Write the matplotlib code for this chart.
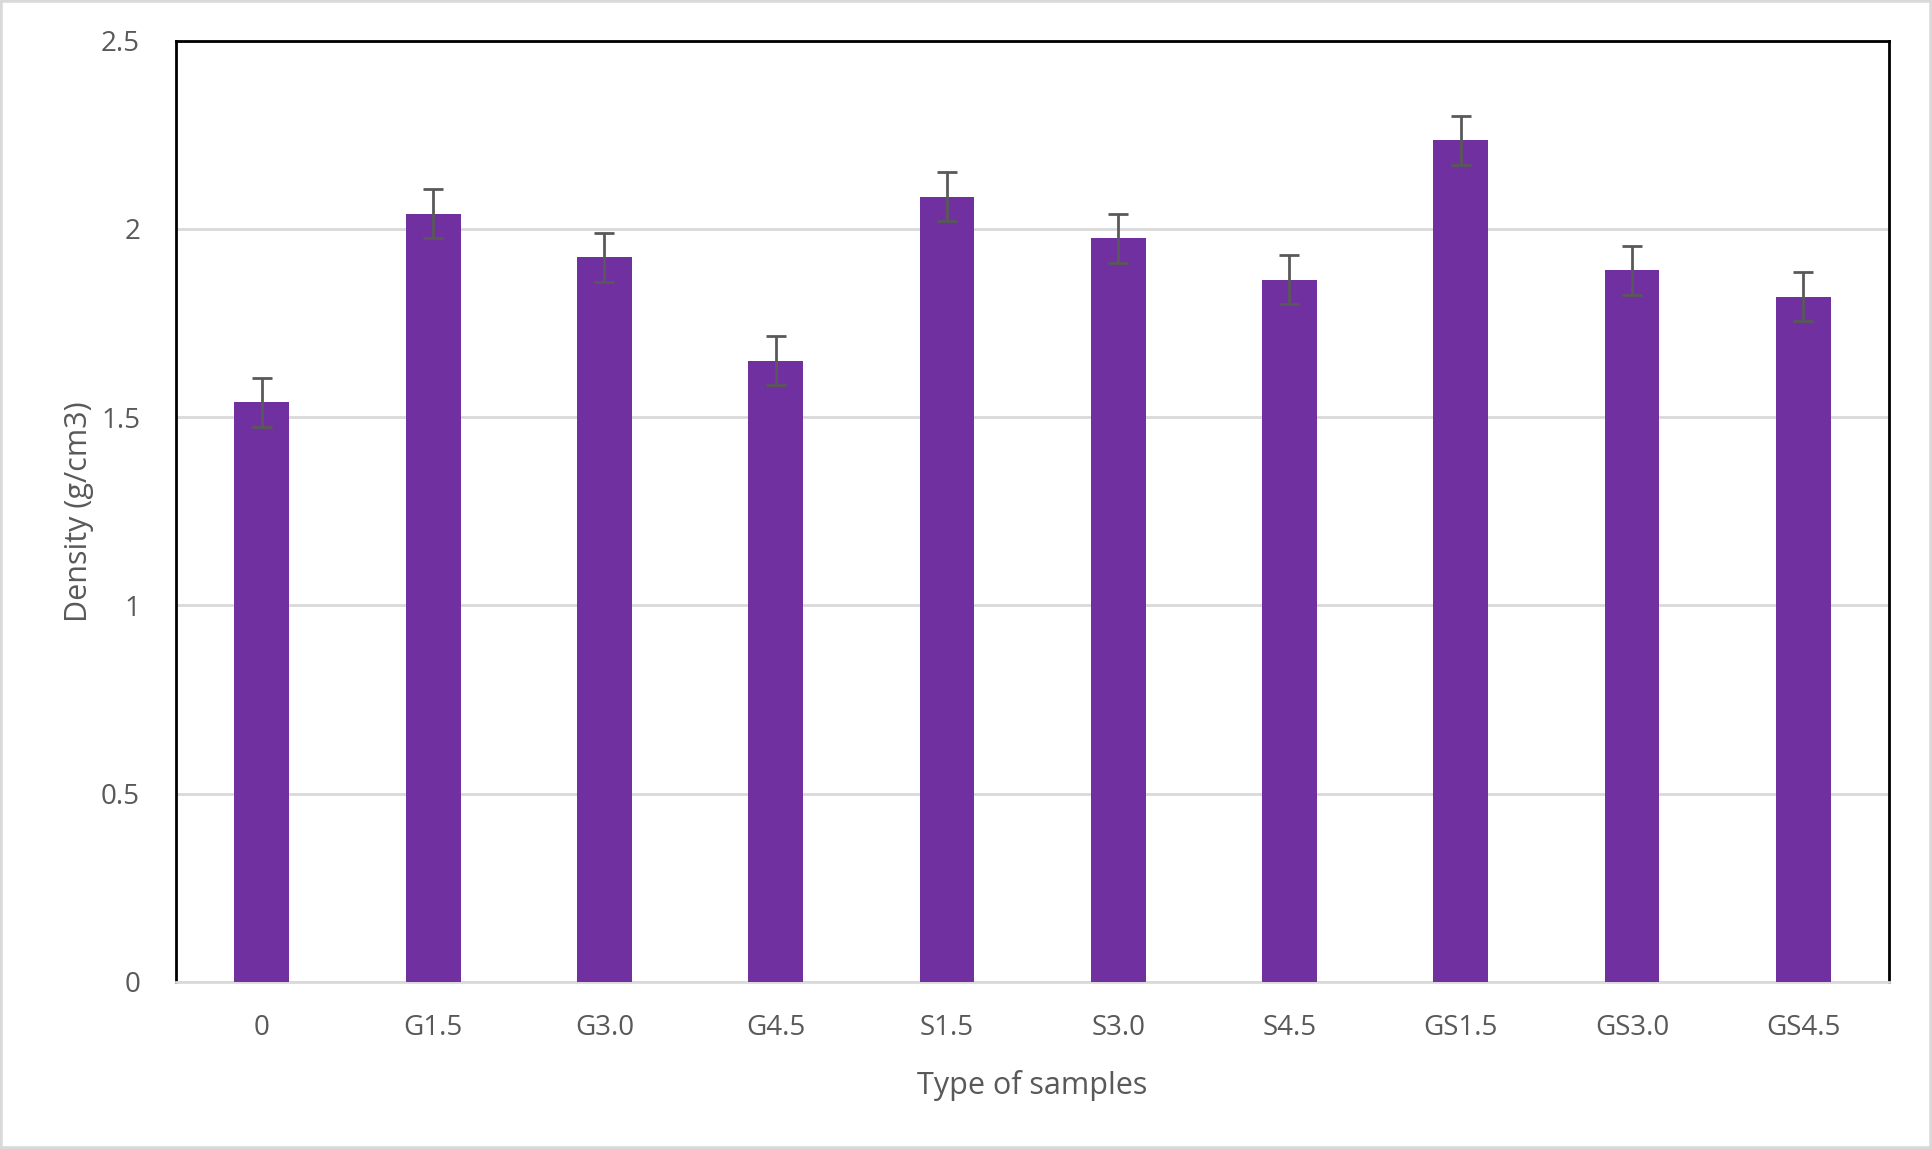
import numpy as np
import matplotlib.pyplot as plt
from matplotlib.patches import Rectangle

# data
samples = ["0", "G1.5", "G3.0", "G4.5", "S1.5", "S3.0", "S4.5", "GS1.5", "GS3.0", "GS4.5"]
density = [1.54, 2.04, 1.925, 1.65, 2.085, 1.975, 1.865, 2.235, 1.89, 1.82]
errors = [0.065, 0.065, 0.065, 0.065, 0.065, 0.065, 0.065, 0.065, 0.065, 0.065]
yticks = [0, 0.5, 1, 1.5, 2, 2.5]
ytick_labels = ["0", "0.5", "1", "1.5", "2", "2.5"]

plt.rcParams['font.family'] = ['Open Sans', 'DejaVu Sans']

fig = plt.figure(figsize=(19.32, 11.49), dpi=100)
ax = fig.add_axes([0.0912, 0.1454, 0.8865, 0.8192])

x = np.arange(len(samples))
ax.bar(x, density, width=0.32, color="#7030A0", zorder=3)
ax.errorbar(x, density, yerr=errors, fmt="none", ecolor="#595959",
            elinewidth=2, capsize=7, capthick=2, zorder=4)

ax.set_xlim(-0.5, len(samples) - 0.5)
ax.set_ylim(0, 2.5)
ax.set_yticks(yticks)
ax.set_yticklabels(ytick_labels)
ax.set_xticks(x)
ax.set_xticklabels(samples)

ax.yaxis.grid(True, color="#d9d9d9", linewidth=2, zorder=0)
ax.set_axisbelow(True)

for side in ["top", "left", "right"]:
    ax.spines[side].set_color("black")
    ax.spines[side].set_linewidth(2)
ax.spines["bottom"].set_color("#d9d9d9")
ax.spines["bottom"].set_linewidth(2)

ax.tick_params(axis="both", length=0, labelsize=20, colors="#595959")
ax.tick_params(axis="y", pad=26)
ax.tick_params(axis="x", pad=23)

ax.set_xlabel("Type of samples", fontsize=22, color="#595959", labelpad=20)
ax.set_ylabel("Density (g/cm3)", fontsize=22, color="#595959", labelpad=5)

fig.patches.append(Rectangle((0, 0), 1, 1, transform=fig.transFigure,
                             fill=False, edgecolor="#d9d9d9", linewidth=4))

fig.savefig("out.png", dpi=100)
